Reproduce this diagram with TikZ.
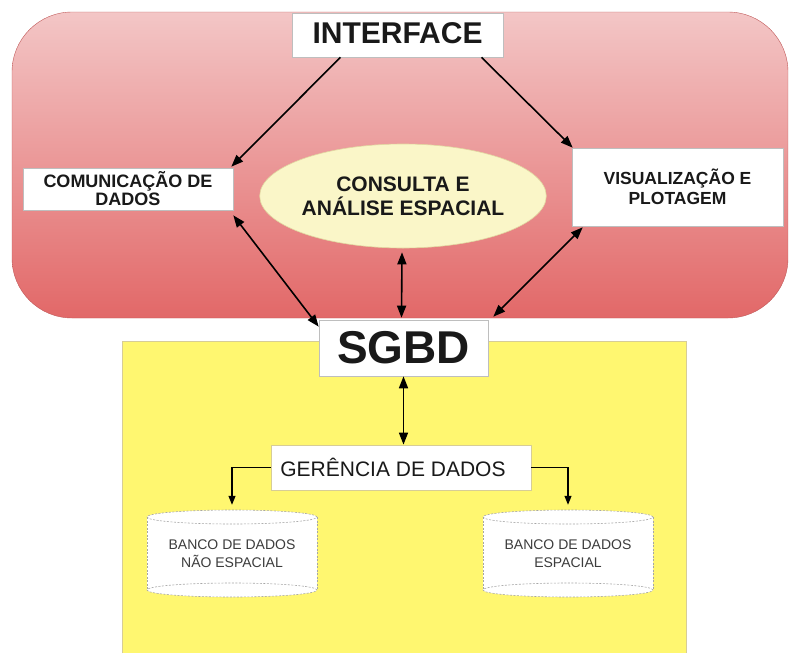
\documentclass[tikz,border=0pt]{standalone}
\usepackage{fontspec}
\setmainfont{Liberation Sans}
\usetikzlibrary{shapes.geometric,arrows.meta,calc}
\definecolor{redtop}{RGB}{243,198,198}
\definecolor{redbot}{RGB}{226,104,104}
\definecolor{yel}{RGB}{255,247,112}
\definecolor{yelborder}{RGB}{215,205,150}
\definecolor{ellfill}{RGB}{250,246,200}
\definecolor{ellborder}{RGB}{225,215,160}
\definecolor{boxborder}{RGB}{190,190,190}
\definecolor{txt}{RGB}{25,25,25}
\definecolor{cyltxt}{RGB}{60,60,60}
\begin{document}
\begin{tikzpicture}[x=1pt,y=-1pt,
  box/.style={draw=boxborder,fill=white,line width=0.6pt,inner sep=0pt,align=center,text=txt},
  arr/.style={line width=1.6pt,-{Triangle[length=12pt,width=9pt]}},
  dbl/.style={line width=1.6pt,{Triangle[length=12pt,width=9pt]}-{Triangle[length=12pt,width=9pt]}},
  thinarr/.style={line width=1.1pt,-{Triangle[length=9pt,width=7pt]}},
  cyltext/.style={inner sep=0pt,align=center,text=cyltxt,minimum width=170pt,minimum height=87pt,
     font=\fontsize{14}{18}\selectfont},
  cyldash/.style={draw=black!35,line width=0.6pt,dash pattern=on 2pt off 1.5pt},
]
\useasboundingbox (0,0) rectangle (789,653);
\fill[white] (0,0) rectangle (789,653);
% red region
\shadedraw[top color=redtop,bottom color=redbot,draw=redbot!85!black,line width=0.4pt,rounded corners=60pt]
  (12,12) rectangle (788,318);
% yellow region
\fill[yel] (122,341) rectangle (686,653);
\draw[yelborder,line width=0.8pt] (122,653) -- (122,341) -- (686,341) -- (686,653);

% nodes in the red region
\node[box,minimum width=211pt,minimum height=44pt,font=\bfseries\fontsize{30}{32}\selectfont]
  (interface) at (397.5,35) {\raisebox{3pt}{INTERFACE}};
\node[box,minimum width=210pt,minimum height=42pt,font=\bfseries\fontsize{18}{18}\selectfont]
  (comm) at (128,189) {COMUNICAÇÃO DE\\DADOS};
\node[box,minimum width=211pt,minimum height=78pt,font=\bfseries\fontsize{17.5}{20}\selectfont]
  (vis) at (677.5,187) {VISUALIZAÇÃO E\\PLOTAGEM};
\node[ellipse,draw=ellborder,fill=ellfill,line width=0.6pt,inner sep=0pt,minimum width=234pt,
  minimum height=104pt,align=center,text=txt,font=\bfseries\fontsize{21}{24}\selectfont]
  (cons) at (403,196) {CONSULTA E\\ANÁLISE ESPACIAL};

% SGBD and data management
\node[box,minimum width=169pt,minimum height=56pt,font=\bfseries\fontsize{46}{48}\selectfont]
  (sgbd) at (403.5,348) {SGBD};
\node[draw=yelborder,fill=white,line width=0.8pt,inner sep=0pt,minimum width=260pt,minimum height=45pt,
  text=txt,font=\fontsize{21}{24}\selectfont]
  (ger) at (401,467.5) {GERÊNCIA DE DADOS\hspace*{16pt}};

% cylinders
\foreach \cx in {232,568}{
  \fill[white] (\cx-85,517) arc[start angle=180,end angle=0,x radius=85pt,y radius=7pt]
     -- (\cx+85,590) arc[start angle=0,end angle=-180,x radius=85pt,y radius=7pt] -- cycle;
  \draw[cyldash] (\cx-85,517) -- (\cx-85,590);
  \draw[cyldash] (\cx+85,517) -- (\cx+85,590);
  \draw[cyldash] (\cx,517) ellipse[x radius=85pt,y radius=7pt];
  \draw[cyldash] (\cx,590) ellipse[x radius=85pt,y radius=7pt];
}
\node[cyltext] (cylL) at (232,553.5) {BANCO DE DADOS\\NÃO ESPACIAL};
\node[cyltext] (cylR) at (568,553.5) {BANCO DE DADOS\\ESPACIAL};

% connectors
\draw[arr] ([xshift=-57pt]interface.south) -- ([xshift=-2pt,yshift=1pt]comm.north east);
\draw[arr] ([xshift=84pt]interface.south) -- ([xshift=1pt]vis.north west);
\draw[dbl] ([yshift=-5pt]comm.south east) -- ([yshift=-7pt]sgbd.north west);
\draw[dbl] ([xshift=-1pt,yshift=-4pt]cons.south) -- ([xshift=-2pt,yshift=2pt]sgbd.north);
\draw[dbl] ([xshift=11pt,yshift=-1pt]vis.south west) -- ([xshift=5pt,yshift=3pt]sgbd.north east);
\draw[dbl] (sgbd.south) -- (sgbd.south |- ger.north);
\draw[thinarr] (ger.west) -| ([yshift=5pt]cylL.north);
\draw[thinarr] (ger.east) -| ([yshift=5pt]cylR.north);
\end{tikzpicture}
\end{document}
